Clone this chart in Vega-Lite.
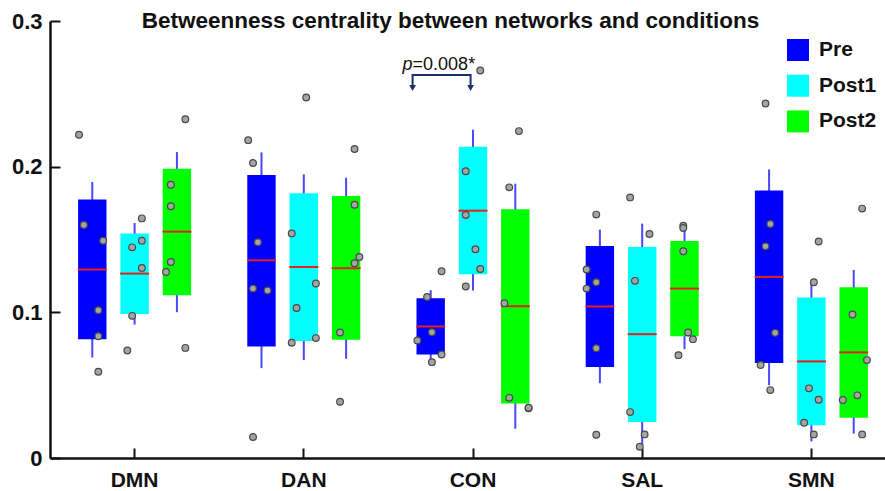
{
  "$schema": "https://vega.github.io/schema/vega-lite/v6.json",
  "autosize": {"type": "none"},
  "padding": {"left": 50, "top": 21, "right": 0, "bottom": 33},
  "width": 835,
  "height": 437,
  "title": {
    "text": "Betweenness centrality between networks and conditions",
    "font": "Liberation Sans",
    "fontSize": 22.5,
    "fontWeight": "bold",
    "color": "#111111",
    "anchor": "middle",
    "baseline": "alphabetic",
    "dx": -17,
    "offset": -40
  },
  "config": {
    "view": {"stroke": null},
    "font": "Liberation Sans"
  },
  "datasets": {
    "boxes": [
      {"network": "DMN", "condition": "Pre", "q1": 0.0816, "median": 0.1294, "q3": 0.1774, "lo": 0.0690, "hi": 0.1894},
      {"network": "DMN", "condition": "Post1", "q1": 0.0989, "median": 0.1266, "q3": 0.1542, "lo": 0.0916, "hi": 0.1613},
      {"network": "DMN", "condition": "Post2", "q1": 0.1117, "median": 0.1554, "q3": 0.1986, "lo": 0.1001, "hi": 0.2100},
      {"network": "DAN", "condition": "Pre", "q1": 0.0766, "median": 0.1357, "q3": 0.1942, "lo": 0.0617, "hi": 0.2098},
      {"network": "DAN", "condition": "Post1", "q1": 0.0804, "median": 0.1312, "q3": 0.1817, "lo": 0.0672, "hi": 0.1947},
      {"network": "DAN", "condition": "Post2", "q1": 0.0811, "median": 0.1303, "q3": 0.1798, "lo": 0.0681, "hi": 0.1924},
      {"network": "CON", "condition": "Pre", "q1": 0.0711, "median": 0.0903, "q3": 0.1097, "lo": 0.0644, "hi": 0.1152},
      {"network": "CON", "condition": "Post1", "q1": 0.1261, "median": 0.1698, "q3": 0.2137, "lo": 0.1150, "hi": 0.2253},
      {"network": "CON", "condition": "Post2", "q1": 0.0375, "median": 0.1042, "q3": 0.1707, "lo": 0.0201, "hi": 0.1883},
      {"network": "SAL", "condition": "Pre", "q1": 0.0624, "median": 0.1040, "q3": 0.1456, "lo": 0.0514, "hi": 0.1568},
      {"network": "SAL", "condition": "Post1", "q1": 0.0247, "median": 0.0850, "q3": 0.1449, "lo": 0.0089, "hi": 0.1609},
      {"network": "SAL", "condition": "Post2", "q1": 0.0836, "median": 0.1163, "q3": 0.1490, "lo": 0.0747, "hi": 0.1575},
      {"network": "SMN", "condition": "Pre", "q1": 0.0653, "median": 0.1243, "q3": 0.1837, "lo": 0.0500, "hi": 0.1981},
      {"network": "SMN", "condition": "Post1", "q1": 0.0224, "median": 0.0663, "q3": 0.1102, "lo": 0.0114, "hi": 0.1211},
      {"network": "SMN", "condition": "Post2", "q1": 0.0276, "median": 0.0725, "q3": 0.1172, "lo": 0.0167, "hi": 0.1291}
    ],
    "points": [
      {"network": "DMN", "slot": "Pre-1", "value": 0.2219},
      {"network": "DMN", "slot": "Pre-2", "value": 0.1600},
      {"network": "DMN", "slot": "Pre-6", "value": 0.1492},
      {"network": "DMN", "slot": "Pre-5", "value": 0.1015},
      {"network": "DMN", "slot": "Pre-5", "value": 0.0836},
      {"network": "DMN", "slot": "Pre-5", "value": 0.0592},
      {"network": "DMN", "slot": "Post1-5", "value": 0.1645},
      {"network": "DMN", "slot": "Post1-3", "value": 0.1446},
      {"network": "DMN", "slot": "Post1-5", "value": 0.1492},
      {"network": "DMN", "slot": "Post1-5", "value": 0.1305},
      {"network": "DMN", "slot": "Post1-3", "value": 0.0976},
      {"network": "DMN", "slot": "Post1-2", "value": 0.0738},
      {"network": "DMN", "slot": "Post2-5", "value": 0.2326},
      {"network": "DMN", "slot": "Post2-2", "value": 0.1876},
      {"network": "DMN", "slot": "Post2-2", "value": 0.1728},
      {"network": "DMN", "slot": "Post2-2", "value": 0.1346},
      {"network": "DMN", "slot": "Post2-1", "value": 0.1277},
      {"network": "DMN", "slot": "Post2-5", "value": 0.0756},
      {"network": "DAN", "slot": "Pre-1", "value": 0.2182},
      {"network": "DAN", "slot": "Pre-2", "value": 0.2025},
      {"network": "DAN", "slot": "Pre-3", "value": 0.1481},
      {"network": "DAN", "slot": "Pre-2", "value": 0.1163},
      {"network": "DAN", "slot": "Pre-5", "value": 0.1150},
      {"network": "DAN", "slot": "Pre-2", "value": 0.0144},
      {"network": "DAN", "slot": "Post1-4", "value": 0.2475},
      {"network": "DAN", "slot": "Post1-1", "value": 0.1542},
      {"network": "DAN", "slot": "Post1-6", "value": 0.1198},
      {"network": "DAN", "slot": "Post1-2", "value": 0.1030},
      {"network": "DAN", "slot": "Post1-6", "value": 0.0823},
      {"network": "DAN", "slot": "Post1-1", "value": 0.0791},
      {"network": "DAN", "slot": "Post2-5", "value": 0.2121},
      {"network": "DAN", "slot": "Post2-5", "value": 0.1739},
      {"network": "DAN", "slot": "Post2-6", "value": 0.1380},
      {"network": "DAN", "slot": "Post2-5", "value": 0.1337},
      {"network": "DAN", "slot": "Post2-2", "value": 0.0862},
      {"network": "DAN", "slot": "Post2-2", "value": 0.0386},
      {"network": "CON", "slot": "Pre-6", "value": 0.1282},
      {"network": "CON", "slot": "Pre-3", "value": 0.1106},
      {"network": "CON", "slot": "Pre-4", "value": 0.0864},
      {"network": "CON", "slot": "Pre-1", "value": 0.0807},
      {"network": "CON", "slot": "Pre-6", "value": 0.0711},
      {"network": "CON", "slot": "Pre-4", "value": 0.0658},
      {"network": "CON", "slot": "Post1-5", "value": 0.2660},
      {"network": "CON", "slot": "Post1-2", "value": 0.1968},
      {"network": "CON", "slot": "Post1-2", "value": 0.1668},
      {"network": "CON", "slot": "Post1-4", "value": 0.1433},
      {"network": "CON", "slot": "Post1-5", "value": 0.1298},
      {"network": "CON", "slot": "Post1-2", "value": 0.1177},
      {"network": "CON", "slot": "Post2-4", "value": 0.2244},
      {"network": "CON", "slot": "Post2-2", "value": 0.1858},
      {"network": "CON", "slot": "Post2-1", "value": 0.1063},
      {"network": "CON", "slot": "Post2-2", "value": 0.0413},
      {"network": "CON", "slot": "Post2-6", "value": 0.0341},
      {"network": "CON", "slot": "Post2-6", "value": 0.0345},
      {"network": "SAL", "slot": "Pre-3", "value": 0.1671},
      {"network": "SAL", "slot": "Pre-1", "value": 0.1294},
      {"network": "SAL", "slot": "Pre-3", "value": 0.1207},
      {"network": "SAL", "slot": "Pre-1", "value": 0.1163},
      {"network": "SAL", "slot": "Pre-3", "value": 0.0754},
      {"network": "SAL", "slot": "Pre-3", "value": 0.0160},
      {"network": "SAL", "slot": "Post1-1", "value": 0.1789},
      {"network": "SAL", "slot": "Post1-5", "value": 0.1538},
      {"network": "SAL", "slot": "Post1-2", "value": 0.1216},
      {"network": "SAL", "slot": "Post1-1", "value": 0.0315},
      {"network": "SAL", "slot": "Post1-4", "value": 0.0162},
      {"network": "SAL", "slot": "Post1-3", "value": 0.0077},
      {"network": "SAL", "slot": "Post2-3", "value": 0.1595},
      {"network": "SAL", "slot": "Post2-3", "value": 0.1579},
      {"network": "SAL", "slot": "Post2-3", "value": 0.1419},
      {"network": "SAL", "slot": "Post2-4", "value": 0.0862},
      {"network": "SAL", "slot": "Post2-5", "value": 0.0816},
      {"network": "SAL", "slot": "Post2-2", "value": 0.0706},
      {"network": "SMN", "slot": "Pre-3", "value": 0.2434},
      {"network": "SMN", "slot": "Pre-4", "value": 0.1606},
      {"network": "SMN", "slot": "Pre-3", "value": 0.1453},
      {"network": "SMN", "slot": "Pre-5", "value": 0.0859},
      {"network": "SMN", "slot": "Pre-2", "value": 0.0638},
      {"network": "SMN", "slot": "Pre-4", "value": 0.0466},
      {"network": "SMN", "slot": "Post1-5", "value": 0.1486},
      {"network": "SMN", "slot": "Post1-4", "value": 0.1207},
      {"network": "SMN", "slot": "Post1-3", "value": 0.0478},
      {"network": "SMN", "slot": "Post1-5", "value": 0.0400},
      {"network": "SMN", "slot": "Post1-2", "value": 0.0242},
      {"network": "SMN", "slot": "Post1-4", "value": 0.0162},
      {"network": "SMN", "slot": "Post2-5", "value": 0.1712},
      {"network": "SMN", "slot": "Post2-3", "value": 0.0985},
      {"network": "SMN", "slot": "Post2-6", "value": 0.0672},
      {"network": "SMN", "slot": "Post2-4", "value": 0.0430},
      {"network": "SMN", "slot": "Post2-1", "value": 0.0398},
      {"network": "SMN", "slot": "Post2-5", "value": 0.0162}
    ],
    "bracket": [
      {"network": "CON", "slot": "L6", "value": 0.2545, "order": 1},
      {"network": "CON", "slot": "L6", "value": 0.2630, "order": 2},
      {"network": "CON", "slot": "Post1-3", "value": 0.2630, "order": 3},
      {"network": "CON", "slot": "Post1-3", "value": 0.2545, "order": 4}
    ],
    "arrows": [
      {"network": "CON", "slot": "L6", "value": 0.2540},
      {"network": "CON", "slot": "Post1-3", "value": 0.2540}
    ],
    "label": [
      {"network": "CON", "slot": "L6", "value": 0.2667, "p": "p", "rest": "=0.008*"}
    ]
  },
  "encoding": {
    "x": {
      "field": "network",
      "type": "nominal",
      "scale": {"domain": ["DMN", "DAN", "CON", "SAL", "SMN"], "range": [0, 846], "paddingInner": 0, "paddingOuter": 0},
      "axis": {
        "title": null,
        "labelAngle": 0,
        "labelFont": "Liberation Sans",
        "labelFontSize": 21,
        "labelFontWeight": "bold",
        "labelColor": "#111111",
        "labelPadding": 21,
        "tickSize": -10,
        "tickWidth": 2,
        "tickColor": "#111111",
        "domainWidth": 2.5,
        "domainColor": "#111111",
        "grid": false
      }
    }
  },
  "resolve": {"scale": {"xOffset": "independent"}},
  "layer": [
    {
      "data": {"name": "boxes"},
      "mark": {"type": "rule", "color": "#4848ff", "strokeWidth": 2},
      "encoding": {
        "xOffset": {"field": "condition", "type": "nominal", "scale": {"domain": ["Pre", "Post1", "Post2"], "paddingInner": 0.329, "paddingOuter": 0.664}},
        "y": {
          "field": "lo",
          "type": "quantitative",
          "scale": {"domain": [0, 0.3], "nice": false},
          "axis": {
            "title": null,
            "values": [0, 0.1, 0.2, 0.3],
            "format": "~g",
            "grid": false,
            "labelFont": "Liberation Sans",
            "labelFontSize": 22,
            "labelFontWeight": "bold",
            "labelColor": "#111111",
            "labelPadding": 18,
            "tickSize": -10,
            "tickWidth": 2,
            "tickColor": "#111111",
            "domainWidth": 2.5,
            "domainColor": "#111111"
          }
        },
        "y2": {"field": "hi"}
      }
    },
    {
      "data": {"name": "boxes"},
      "mark": {"type": "bar", "opacity": 1},
      "encoding": {
        "xOffset": {"field": "condition", "type": "nominal", "scale": {"domain": ["Pre", "Post1", "Post2"], "paddingInner": 0.329, "paddingOuter": 0.664}},
        "y": {"field": "q1", "type": "quantitative"},
        "y2": {"field": "q3"},
        "color": {
          "field": "condition",
          "type": "nominal",
          "scale": {"domain": ["Pre", "Post1", "Post2"], "range": ["#0000ff", "#00ffff", "#00ff00"]},
          "legend": {
            "title": null,
            "orient": "none",
            "legendX": 737,
            "legendY": 18,
            "padding": 0,
            "symbolType": "square",
            "symbolSize": 484,
            "symbolStrokeWidth": 0,
            "labelFont": "Liberation Sans",
            "labelFontSize": 21,
            "labelFontWeight": "bold",
            "labelColor": "#111111",
            "labelOffset": 10,
            "rowPadding": 13.7
          }
        }
      }
    },
    {
      "data": {"name": "boxes"},
      "mark": {"type": "tick", "color": "#e8201c", "thickness": 2, "size": 29, "opacity": 1},
      "encoding": {
        "xOffset": {"field": "condition", "type": "nominal", "scale": {"domain": ["Pre", "Post1", "Post2"], "paddingInner": 0.329, "paddingOuter": 0.664}},
        "y": {"field": "median", "type": "quantitative"}
      }
    },
    {
      "data": {"name": "points"},
      "mark": {"type": "point", "filled": true, "fill": "#a4a4a4", "stroke": "#4a4a4a", "strokeWidth": 1.2, "size": 45, "opacity": 1},
      "encoding": {
        "xOffset": {
          "field": "slot",
          "type": "nominal",
          "scale": {
            "domain": ["L1", "L2", "L3", "L4", "L5", "L6", "Pre-1", "Pre-2", "Pre-3", "Pre-4", "Pre-5", "Pre-6", "G1", "G2", "G3", "Post1-1", "Post1-2", "Post1-3", "Post1-4", "Post1-5", "Post1-6", "G4", "G5", "G6", "Post2-1", "Post2-2", "Post2-3", "Post2-4", "Post2-5", "Post2-6", "R1", "R2", "R3", "R4", "R5", "R6"],
            "paddingInner": 0,
            "paddingOuter": 0
          }
        },
        "y": {"field": "value", "type": "quantitative"}
      }
    },
    {
      "data": {"name": "bracket"},
      "mark": {"type": "line", "color": "#1c2f6e", "strokeWidth": 2},
      "encoding": {
        "xOffset": {
          "field": "slot",
          "type": "nominal",
          "scale": {
            "domain": ["L1", "L2", "L3", "L4", "L5", "L6", "Pre-1", "Pre-2", "Pre-3", "Pre-4", "Pre-5", "Pre-6", "G1", "G2", "G3", "Post1-1", "Post1-2", "Post1-3", "Post1-4", "Post1-5", "Post1-6", "G4", "G5", "G6", "Post2-1", "Post2-2", "Post2-3", "Post2-4", "Post2-5", "Post2-6", "R1", "R2", "R3", "R4", "R5", "R6"],
            "paddingInner": 0,
            "paddingOuter": 0
          }
        },
        "y": {"field": "value", "type": "quantitative"},
        "order": {"field": "order", "type": "quantitative"}
      }
    },
    {
      "data": {"name": "arrows"},
      "mark": {"type": "point", "shape": "triangle-down", "filled": true, "color": "#1c2f6e", "size": 45, "opacity": 1},
      "encoding": {
        "xOffset": {
          "field": "slot",
          "type": "nominal",
          "scale": {
            "domain": ["L1", "L2", "L3", "L4", "L5", "L6", "Pre-1", "Pre-2", "Pre-3", "Pre-4", "Pre-5", "Pre-6", "G1", "G2", "G3", "Post1-1", "Post1-2", "Post1-3", "Post1-4", "Post1-5", "Post1-6", "G4", "G5", "G6", "Post2-1", "Post2-2", "Post2-3", "Post2-4", "Post2-5", "Post2-6", "R1", "R2", "R3", "R4", "R5", "R6"],
            "paddingInner": 0,
            "paddingOuter": 0
          }
        },
        "y": {"field": "value", "type": "quantitative"}
      }
    },
    {
      "data": {"name": "label"},
      "mark": {"type": "text", "align": "right", "baseline": "alphabetic", "font": "Liberation Sans", "fontSize": 18, "fontStyle": "italic", "color": "#111111"},
      "encoding": {
        "xOffset": {
          "field": "slot",
          "type": "nominal",
          "scale": {
            "domain": ["L1", "L2", "L3", "L4", "L5", "L6", "Pre-1", "Pre-2", "Pre-3", "Pre-4", "Pre-5", "Pre-6", "G1", "G2", "G3", "Post1-1", "Post1-2", "Post1-3", "Post1-4", "Post1-5", "Post1-6", "G4", "G5", "G6", "Post2-1", "Post2-2", "Post2-3", "Post2-4", "Post2-5", "Post2-6", "R1", "R2", "R3", "R4", "R5", "R6"],
            "paddingInner": 0,
            "paddingOuter": 0
          }
        },
        "y": {"field": "value", "type": "quantitative"},
        "text": {"field": "p"}
      }
    },
    {
      "data": {"name": "label"},
      "mark": {"type": "text", "align": "left", "baseline": "alphabetic", "font": "Liberation Sans", "fontSize": 18, "color": "#111111"},
      "encoding": {
        "xOffset": {
          "field": "slot",
          "type": "nominal",
          "scale": {
            "domain": ["L1", "L2", "L3", "L4", "L5", "L6", "Pre-1", "Pre-2", "Pre-3", "Pre-4", "Pre-5", "Pre-6", "G1", "G2", "G3", "Post1-1", "Post1-2", "Post1-3", "Post1-4", "Post1-5", "Post1-6", "G4", "G5", "G6", "Post2-1", "Post2-2", "Post2-3", "Post2-4", "Post2-5", "Post2-6", "R1", "R2", "R3", "R4", "R5", "R6"],
            "paddingInner": 0,
            "paddingOuter": 0
          }
        },
        "y": {"field": "value", "type": "quantitative"},
        "text": {"field": "rest"}
      }
    }
  ]
}
